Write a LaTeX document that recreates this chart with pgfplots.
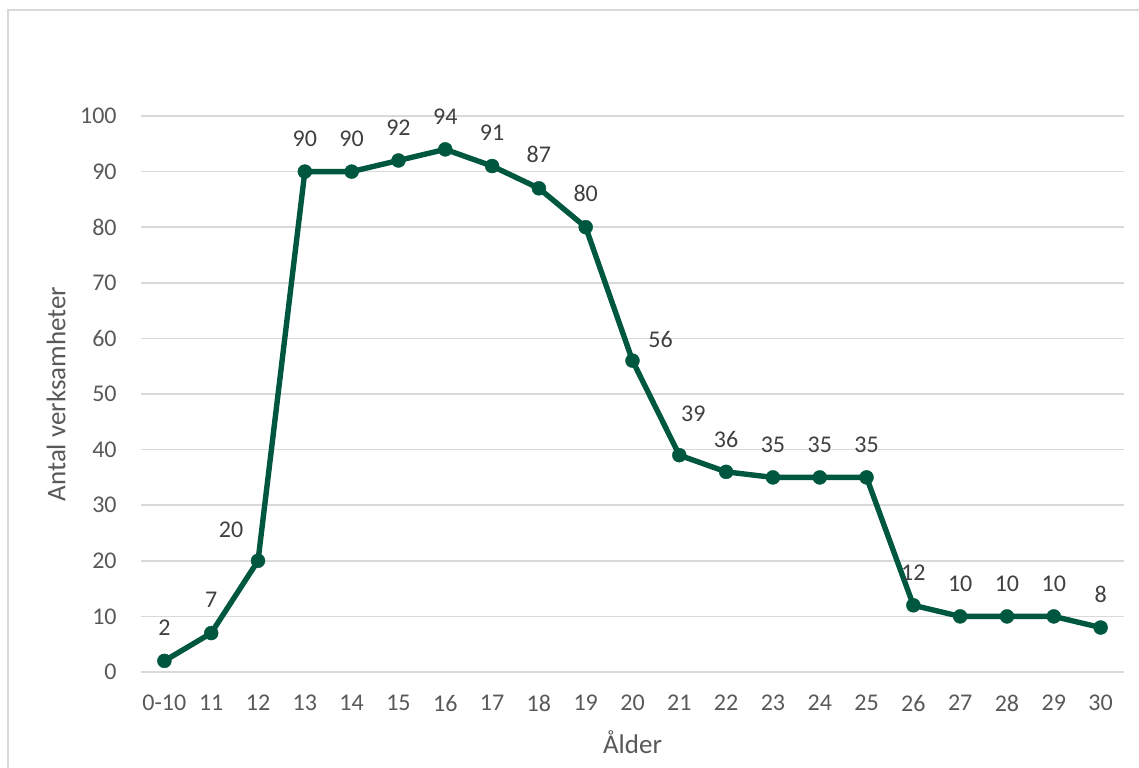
\documentclass[border=0pt]{standalone}
\usepackage{pgfplots}
\usepackage{pgfplotstable}
\pgfplotsset{compat=1.18}
\usepackage{fontspec}
\setmainfont{Carlito}
\definecolor{linegreen}{HTML}{00573F}
\definecolor{gridgray}{HTML}{D9D9D9}
\definecolor{txtgray}{HTML}{595959}
\definecolor{lblgray}{HTML}{404040}
\pgfplotstableread{
x y dx dy
0 2 0 0
1 7 0 0
2 20 -13.5 -1
3 90 0 0
4 90 0 0
5 92 0 0
6 94 0 0
7 91 0 0
8 87 0 0
9 80 0 0
10 56 14 -6
11 39 7 4
12 36 0 -0.5
13 35 0 0
14 35 0 0
15 35 0 0
16 12 0 0
17 10 0 0
18 10 0 0
19 10 0 0
20 8 0 0
}\datatable
\begin{document}
\begin{tikzpicture}
\clip (-70.5pt,-47.5pt) rectangle (499pt,336pt);
\useasboundingbox (-70.5pt,-47.5pt) rectangle (499pt,336pt);
\draw[gridgray, line width=0.8pt] (-66.5pt,-60pt) rectangle (510pt,331pt);
\begin{axis}[
  at={(0pt,0pt)}, anchor=south west,
  scale only axis,
  width=491.5pt, height=278pt,
  xmin=-0.5, xmax=20.5,
  ymin=0, ymax=100,
  xtick={0,...,20},
  xticklabels={0-10,11,12,13,14,15,16,17,18,19,20,21,22,23,24,25,26,27,28,29,30},
  ytick={0,10,...,100},
  axis line style={draw=none},
  major tick length=0pt,
  ymajorgrids,
  grid style={gridgray, line width=0.8pt},
  tick label style={font=\fontsize{12}{14}\selectfont, text=txtgray},
  /pgf/number format/assume math mode=true,
  yticklabel style={anchor=east, inner sep=0pt, xshift=-12pt},
  xticklabel style={anchor=north, inner sep=0pt, yshift=-11.5pt},
  xlabel={Ålder},
  ylabel={Antal verksamheter},
  label style={font=\fontsize{13.5}{15}\selectfont, text=txtgray},
  xlabel style={at={(rel axis cs:0.5,0)}, anchor=center, yshift=-35pt},
  ylabel style={at={(rel axis cs:0,0.5)}, anchor=center, rotate=0, yshift=42.5pt},
  clip=false,
]
\addplot[color=linegreen, line width=2.7pt, mark=*, mark size=3.5pt,
  mark options={fill=linegreen, draw=linegreen, line width=0.2pt},
  visualization depends on={\thisrow{dx}\as\dx},
  visualization depends on={\thisrow{dy}\as\dy},
  nodes near coords,
  nodes near coords style={anchor=south, inner sep=0pt, xshift={\dx pt}, yshift={(12.5+\dy)*1pt}, font=\fontsize{12}{14}\selectfont, text=lblgray},
] table[x=x, y=y] {\datatable};
\end{axis}
\end{tikzpicture}
\end{document}
